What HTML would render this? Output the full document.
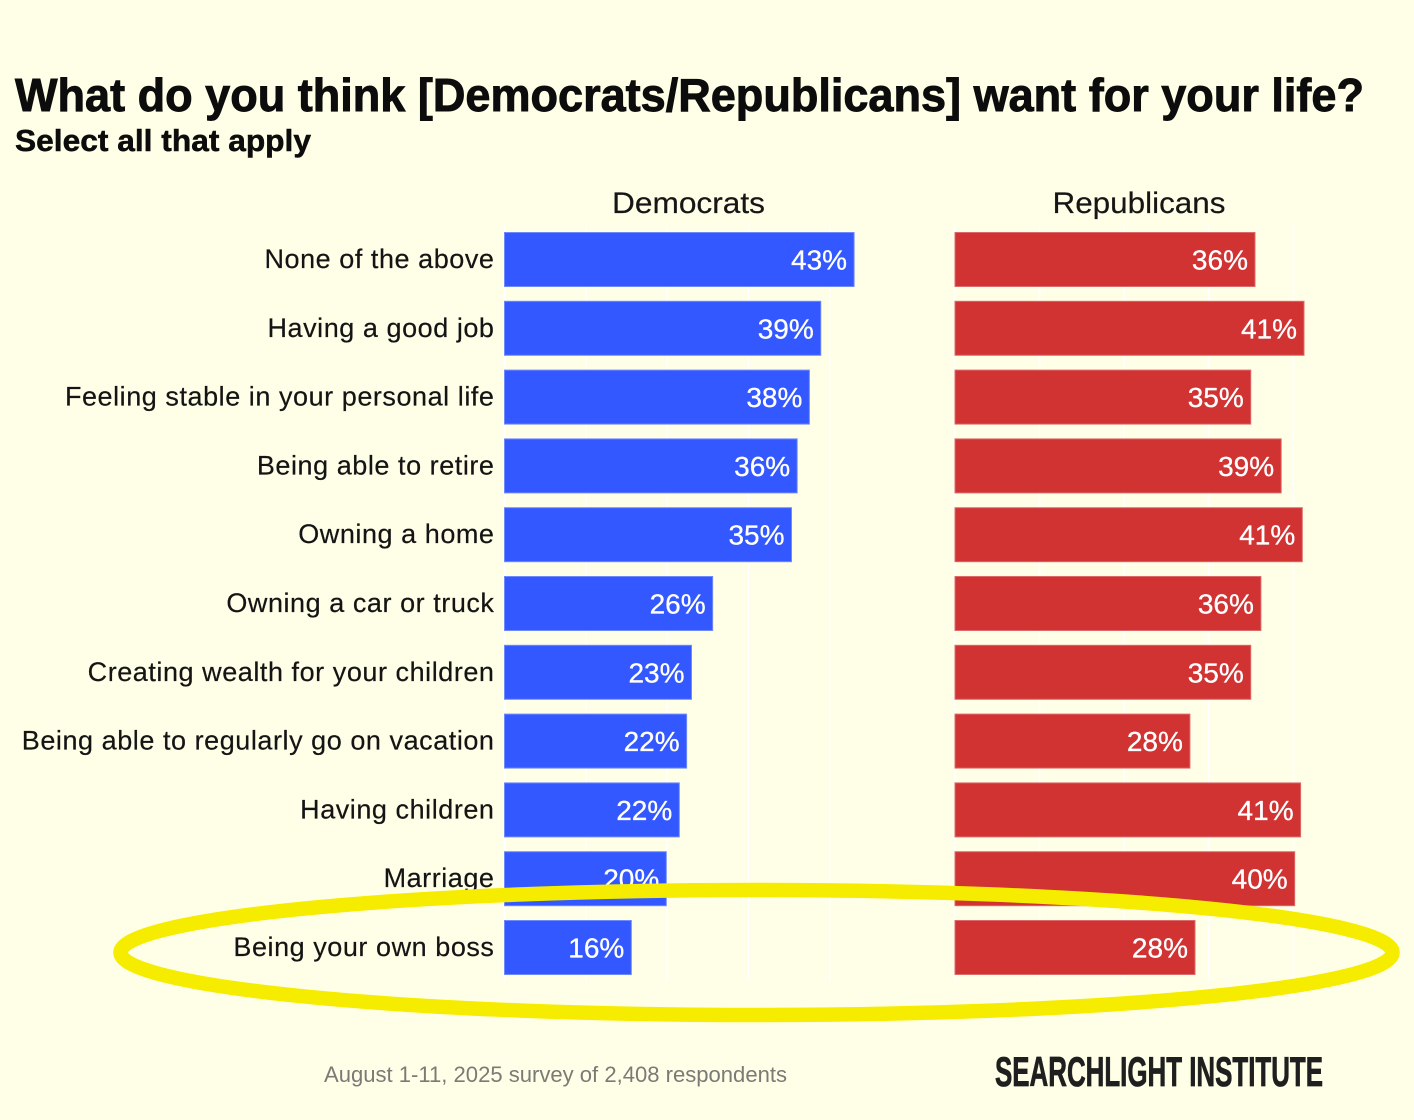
<!DOCTYPE html>
<html lang="en">
<head>
<meta charset="utf-8">
<title>What do you think [Democrats/Republicans] want for your life?</title>
<style>
html,body{margin:0;padding:0;background:#ffffe8;}
svg{display:block;font-family:"Liberation Sans",Arial,sans-serif;}
</style>
</head>
<body>
<svg id="chart" width="1414" height="1120" viewBox="0 0 1414 1120" xmlns="http://www.w3.org/2000/svg">
  <rect width="1414" height="1120" fill="#ffffe8"/>
  <text x="15" y="111" font-size="46" font-weight="700" fill="#0c0c0c" stroke="#0c0c0c" stroke-width="0.9" textLength="1349" lengthAdjust="spacingAndGlyphs">What do you think [Democrats/Republicans] want for your life?</text>
  <text x="15" y="151" font-size="31" font-weight="700" fill="#0c0c0c" stroke="#0c0c0c" stroke-width="0.5" textLength="296" lengthAdjust="spacingAndGlyphs">Select all that apply</text>
  <text x="688.5" y="213" font-size="30" text-anchor="middle" fill="#161616" stroke="#161616" stroke-width="0.2" textLength="153" lengthAdjust="spacingAndGlyphs">Democrats</text>
  <text x="1139" y="213" font-size="30" text-anchor="middle" fill="#161616" stroke="#161616" stroke-width="0.2" textLength="173" lengthAdjust="spacingAndGlyphs">Republicans</text>
  <g id="grid"></g>
  <g id="labels"></g>
  <g id="dem"></g>
  <g id="rep"></g>
  <ellipse cx="756.5" cy="952.5" rx="636" ry="62.5" fill="none" stroke="#f5ec00" stroke-width="14.5"/>
  <text x="324" y="1082" font-size="22" fill="#7a7a76" textLength="463" lengthAdjust="spacingAndGlyphs">August 1-11, 2025 survey of 2,408 respondents</text>
  <text x="995" y="1086" font-size="42" font-weight="700" fill="#1f1f1f" stroke="#1f1f1f" stroke-width="0.8" textLength="328" lengthAdjust="spacingAndGlyphs">SEARCHLIGHT INSTITUTE</text>
</svg>
<script>
const categories = ["None of the above","Having a good job","Feeling stable in your personal life","Being able to retire","Owning a home","Owning a car or truck","Creating wealth for your children","Being able to regularly go on vacation","Having children","Marriage","Being your own boss"];
const democrats = [43,38.9,37.5,36,35.3,25.6,23,22.4,21.5,19.9,15.6];
const republicans = [35.5,41.3,35,38.6,41.1,36.2,35,27.8,40.9,40.2,28.4];
const demGridTicks = [10,20,30,40];
const repGridTicks = [10,20,30,40];

const NS = 'http://www.w3.org/2000/svg';
const xDem = v => 504.5 + v * 8.13;
const xRep = v => 955 + v * 8.45;
const yBand = i => 232.5 + i * 68.8;
const BAND = 54;

function make(tag, parent) {
  const el = document.createElementNS(NS, tag);
  parent.appendChild(el);
  return el;
}

const grid = document.getElementById('grid');
function drawGrid(ticks, scale) {
  [0].concat(ticks).forEach(t => {
    const line = make('line', grid);
    
    
    line.setAttribute('x1', scale(t));
    line.setAttribute('x2', scale(t));
    line.setAttribute('y1', 226);
    line.setAttribute('y2', 981);
    line.setAttribute('stroke', '#ffffff');
    line.setAttribute('stroke-width', 1.5);
  });
}
drawGrid(demGridTicks, xDem);
drawGrid(repGridTicks, xRep);

const labels = document.getElementById('labels');
categories.forEach((c, i) => {
  const t = make('text', labels);
  
  
  t.setAttribute('x', 494.5);
  t.setAttribute('y', yBand(i) + BAND / 2 + 8.5);
  t.setAttribute('text-anchor', 'end');
  t.setAttribute('font-size', 27);
  t.setAttribute('letter-spacing', '0.55');
  t.setAttribute('fill', '#141414');
  t.setAttribute('stroke', '#141414');
  t.setAttribute('stroke-width', 0.2);
  t.textContent = c;
});

function drawSeries(groupId, values, scale, color, edge) {
  const g = document.getElementById(groupId);
  values.forEach((v, i) => {
    const r = make('rect', g);
    
    
    r.setAttribute('x', scale(0));
    r.setAttribute('y', yBand(i));
    r.setAttribute('width', scale(v) - scale(0));
    r.setAttribute('height', BAND);
    r.setAttribute('fill', color);
    r.setAttribute('stroke', edge);
    r.setAttribute('stroke-width', 1);
    const t = make('text', g);
    
    
    t.setAttribute('x', scale(v) - 7);
    t.setAttribute('y', yBand(i) + BAND / 2 + 10);
    t.setAttribute('text-anchor', 'end');
    t.setAttribute('font-size', 28);
    t.setAttribute('fill', '#ffffff');
    t.setAttribute('stroke', '#ffffff');
    t.setAttribute('stroke-width', 0.3);
    t.textContent = Math.round(v) + '%';
  });
}
drawSeries('dem', democrats, xDem, '#3358ff', '#6f8aff');
drawSeries('rep', republicans, xRep, '#d13333', '#dd6a6a');
</script>
</body>
</html>
